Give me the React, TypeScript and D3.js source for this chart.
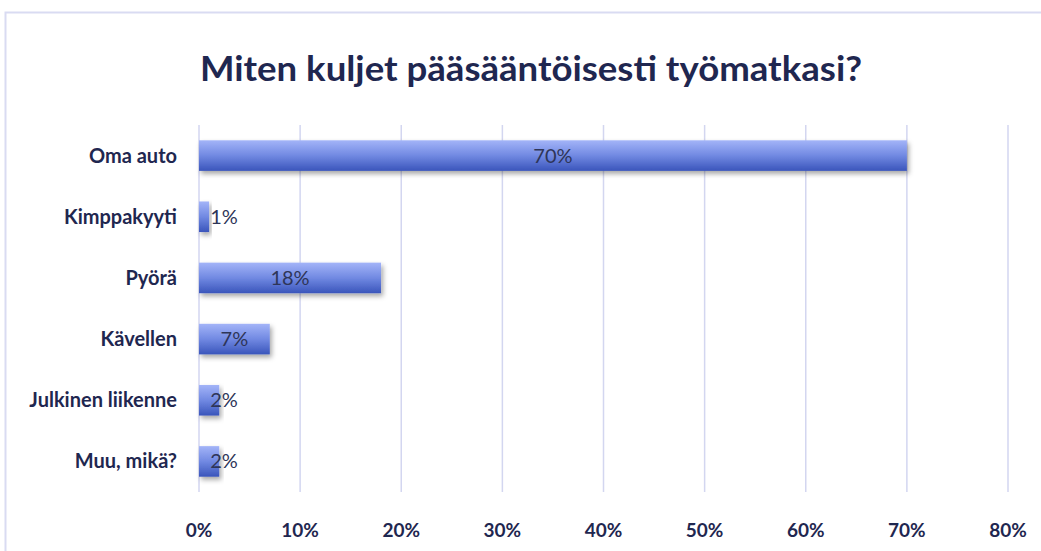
import React, { useEffect, useRef } from 'react';
import * as d3 from 'd3';

const categories = ['Oma auto', 'Kimppakyyti', 'Pyörä', 'Kävellen', 'Julkinen liikenne', 'Muu, mikä?'];
const values = [70, 1, 18, 7, 2, 2];
const tickValues = [0, 10, 20, 30, 40, 50, 60, 70, 80];
const title = 'Miten kuljet pääsääntöisesti työmatkasi?';

const W = 1041;
const H = 551;
const FONT = 'Lato, "Open Sans", sans-serif';

export default function App() {
    const ref = useRef<SVGSVGElement>(null);

    useEffect(() => {
        drawChart();
    }, []);

    function drawChart() {
        const svg = d3.select(ref.current);
        svg.selectAll('*').remove();

        const defs = svg.append('defs');
        const grad = defs.append('linearGradient')
            .attr('id', 'barGrad')
            .attr('x1', 0).attr('y1', 0).attr('x2', 0).attr('y2', 1);
        grad.append('stop').attr('offset', '0%').attr('stop-color', '#a3b4f8');
        grad.append('stop').attr('offset', '50%').attr('stop-color', '#7189e2');
        grad.append('stop').attr('offset', '100%').attr('stop-color', '#3a55bb');

        const shadow = defs.append('filter')
            .attr('id', 'shadow')
            .attr('x', '-10%').attr('y', '-30%')
            .attr('width', '130%').attr('height', '180%');
        shadow.append('feDropShadow')
            .attr('dx', 2).attr('dy', 3)
            .attr('stdDeviation', 2.5)
            .attr('flood-color', '#000')
            .attr('flood-opacity', 0.35);

        // chart frame
        svg.append('rect')
            .attr('x', 5.5).attr('y', 12.5)
            .attr('width', 1100).attr('height', 600)
            .attr('fill', '#fff')
            .attr('stroke', '#d9dbf2')
            .attr('stroke-width', 2);

        const x = d3.scaleLinear().domain([0, 80]).range([199, 1008]);
        const y = d3.scaleBand().domain(categories).range([125, 492]).paddingInner(0.5).paddingOuter(0.25);

        // title
        svg.append('text')
            .attr('x', 531).attr('y', 81)
            .attr('text-anchor', 'middle')
            .attr('font-family', FONT)
            .attr('font-weight', 'bold')
            .attr('font-size', 35)
            .attr('textLength', 662)
            .attr('lengthAdjust', 'spacingAndGlyphs')
            .attr('fill', '#1f2750')
            .text(title);

        // gridlines
        svg.append('g')
            .selectAll('line')
            .data(tickValues)
            .join('line')
            .attr('x1', d => x(d)).attr('x2', d => x(d))
            .attr('y1', 125).attr('y2', 492)
            .attr('stroke', '#d3d6f0')
            .attr('stroke-width', 1.5);

        // tick labels
        svg.append('g')
            .selectAll('text')
            .data(tickValues)
            .join('text')
            .attr('x', d => x(d))
            .attr('y', 537)
            .attr('text-anchor', 'middle')
            .attr('font-family', FONT)
            .attr('font-weight', 'bold')
            .attr('font-size', 19)
            .attr('fill', '#1f2750')
            .text(d => `${d}%`);

        // category labels
        svg.append('g')
            .selectAll('text')
            .data(categories)
            .join('text')
            .attr('x', 177)
            .attr('y', d => y(d)! + y.bandwidth() / 2)
            .attr('dy', '0.35em')
            .attr('text-anchor', 'end')
            .attr('font-family', FONT)
            .attr('font-weight', 'bold')
            .attr('font-size', 20)
            .attr('fill', '#1f2750')
            .text(d => d);

        const rows = categories.map((c, i) => ({ c, v: values[i] }));

        // bars
        svg.append('g')
            .selectAll('rect')
            .data(rows)
            .join('rect')
            .attr('x', x(0))
            .attr('y', d => y(d.c)!)
            .attr('width', d => x(d.v) - x(0))
            .attr('height', y.bandwidth())
            .attr('fill', 'url(#barGrad)')
            .attr('filter', 'url(#shadow)');

        // value labels
        svg.append('g')
            .selectAll('text')
            .data(rows)
            .join('text')
            .attr('x', d => Math.max((x(0) + x(d.v)) / 2, x(0) + 25))
            .attr('y', d => y(d.c)! + y.bandwidth() / 2)
            .attr('dy', '0.35em')
            .attr('text-anchor', 'middle')
            .attr('font-family', FONT)
            .attr('font-size', 20)
            .attr('fill', '#2e3558')
            .text(d => `${d.v}%`);
    }

    return (
        <svg ref={ref} width={W} height={H}
             style={{ position: 'absolute', left: 0, top: 0, display: 'block' }} />
    );
}
